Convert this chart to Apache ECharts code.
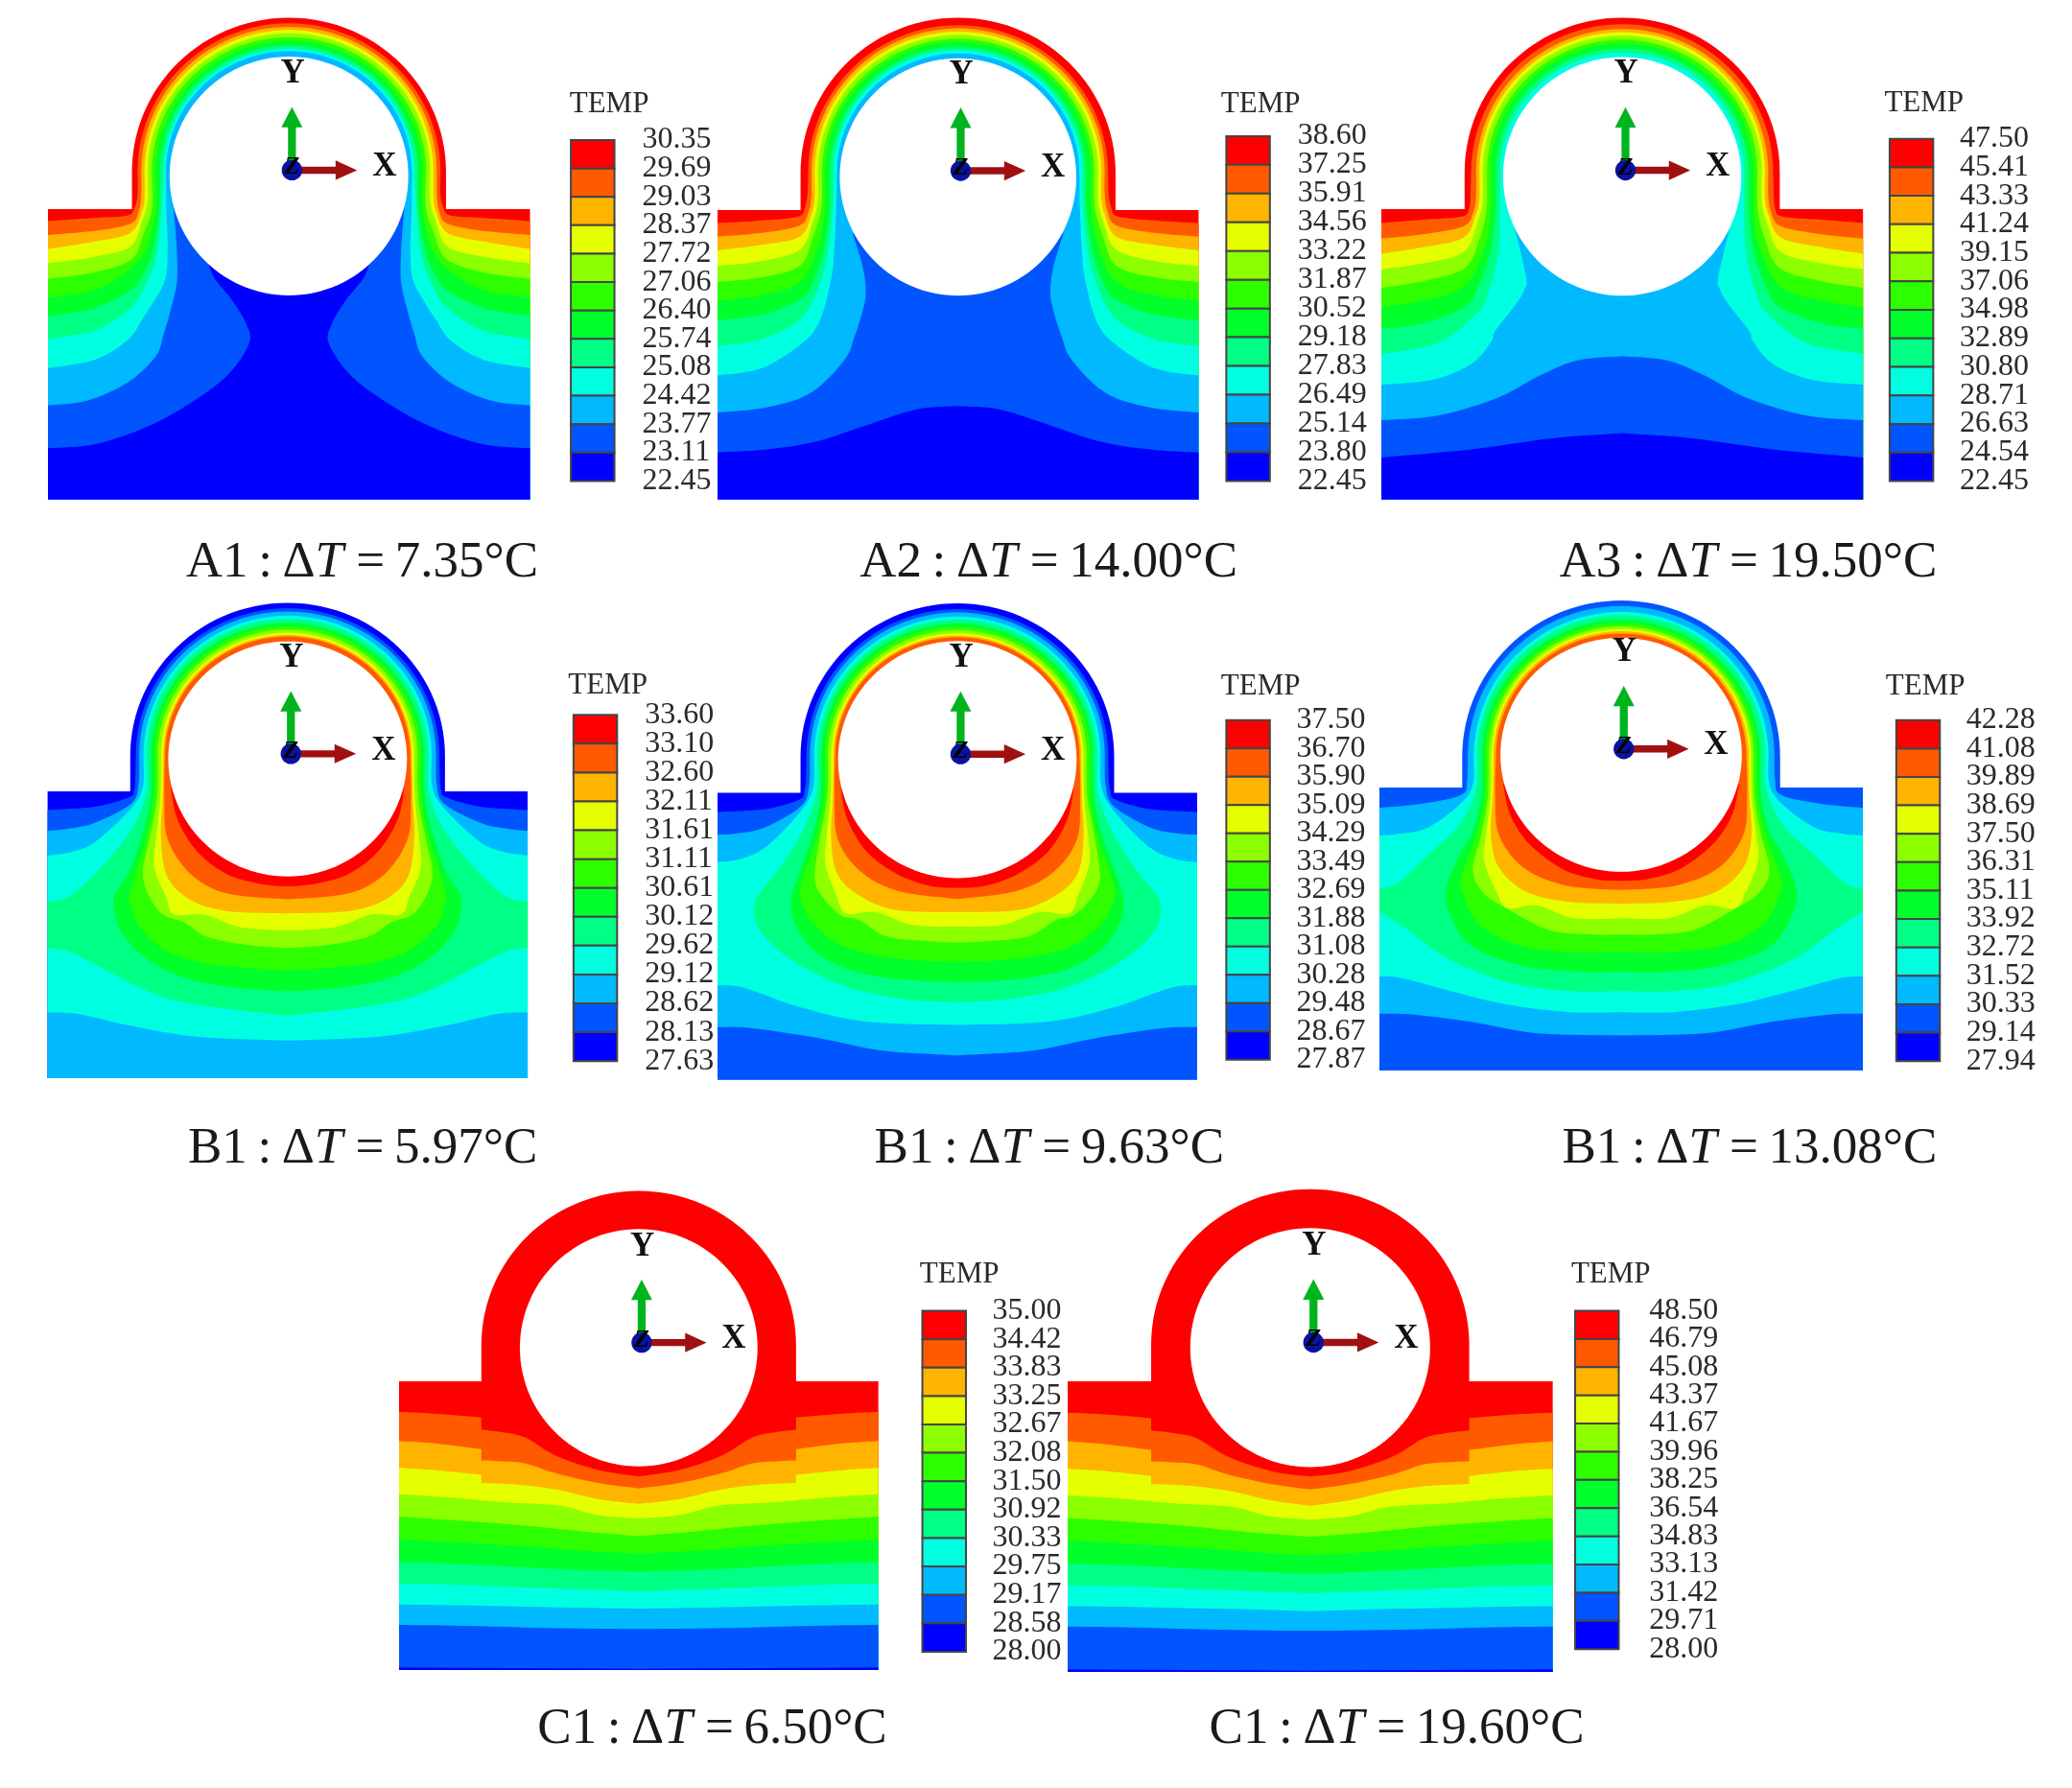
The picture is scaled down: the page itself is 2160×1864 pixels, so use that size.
<!DOCTYPE html>
<html><head><meta charset="utf-8">
<script src="https://cdn.jsdelivr.net/npm/echarts@6/dist/echarts.min.js"></script>
<style>html,body{margin:0;background:#fff}#c{width:2160px;height:1864px;filter:blur(0.6px)}</style>
</head><body><div id="c"></div><script>
const ramp=['#ff0000','#ff5a00','#ffb400','#e6ff00','#8cff00','#2dff00','#00ff2b','#00ff85','#00ffe0','#00b9ff','#0055ff','#0000ff'];

const A1_ticks=['30.35','29.69','29.03','28.37','27.72','27.06','26.40','25.74','25.08','24.42','23.77','23.11','22.45'];
const A2_ticks=['38.60','37.25','35.91','34.56','33.22','31.87','30.52','29.18','27.83','26.49','25.14','23.80','22.45'];
const A3_ticks=['47.50','45.41','43.33','41.24','39.15','37.06','34.98','32.89','30.80','28.71','26.63','24.54','22.45'];
const B1_ticks=['33.60','33.10','32.60','32.11','31.61','31.11','30.61','30.12','29.62','29.12','28.62','28.13','27.63'];
const B2_ticks=['37.50','36.70','35.90','35.09','34.29','33.49','32.69','31.88','31.08','30.28','29.48','28.67','27.87'];
const B3_ticks=['42.28','41.08','39.89','38.69','37.50','36.31','35.11','33.92','32.72','31.52','30.33','29.14','27.94'];
const C1_ticks=['35.00','34.42','33.83','33.25','32.67','32.08','31.50','30.92','30.33','29.75','29.17','28.58','28.00'];
const C2_ticks=['48.50','46.79','45.08','43.37','41.67','39.96','38.25','36.54','34.83','33.13','31.42','29.71','28.00'];

const captions=[['A1','7.35'],['A2','14.00'],['A3','19.50'],['B1','5.97'],['B1','9.63'],['B1','13.08'],['C1','6.50'],['C1','19.60']];

// contour lines, left half, in model units; third element marks a corner
const A1_rings=[458,447,437,427,415,403,390,380,372];
const A1_curves=[
[[331,600],[322,640],[300,665],[200,672],[60,682]],
[[342,600],[335,650],[310,690],[200,712],[60,725]],
[[352,610],[345,650],[310,718],[200,745],[60,768]],
[[362,620],[345,680],[310,760],[200,792],[60,812]],
[[375,640],[350,720],[312,800],[200,840],[60,860]],
[[385,650],[360,760],[310,830],[200,895],[60,918]],
[[397,650],[375,780],[345,850],[310,895],[200,950],[60,975]],
[[405,620],[390,780],[355,880],[310,950],[200,1020],[60,1045]],
[[418,640],[422,760],[415,860],[380,930],[345,985],[300,1050],[200,1110],[60,1135]],
[[789,620,1],[438,620,1],[445,700],[450,780],[450,870],[430,960],[410,1030],[385,1100],[300,1180],[180,1235],[60,1250]],
[[789,815,1],[546,815,1],[565,860],[620,930],[660,1000],[668,1060],[600,1160],[480,1250],[350,1320],[200,1370],[60,1382]]
];
const A2_rings=[455,445,435,425,413,403,388,378,368];
const A2_curves=[
[[818,600],[810,640],[790,668],[680,680],[545,688]],
[[830,600],[822,650],[795,695],[680,718],[545,730]],
[[840,610],[830,660],[795,730],[680,755],[545,772]],
[[850,620],[832,690],[795,770],[680,805],[545,820]],
[[860,640],[835,730],[795,820],[680,855],[545,870]],
[[870,650],[850,760],[795,870],[680,910],[545,928]],
[[885,650],[865,780],[830,880],[795,925],[680,970],[545,988]],
[[895,640],[880,780],[850,890],[795,985],[680,1045],[545,1068]],
[[905,640],[900,760],[890,860],[855,990],[800,1060],[680,1135],[545,1158]],
[[1275,720,1],[955,720,1],[985,820],[995,900],[985,960],[960,1040],[930,1110],[830,1210],[700,1255],[545,1272]],
[[1275,1252],[1150,1262],[1000,1310],[850,1360],[700,1385],[545,1395]]
];
const A3_rings=[459,444,434,424,411,399,384,371];
const A3_curves=[
[[296,600],[292,640],[270,665],[150,675],[25,685]],
[[313,600],[305,650],[275,695],[150,720],[25,733]],
[[323,610],[312,660],[275,730],[150,760],[25,780]],
[[333,620],[315,690],[275,775],[150,810],[25,828]],
[[345,640],[325,730],[278,825],[150,865],[25,885]],
[[357,650],[340,760],[278,880],[150,925],[25,945]],
[[372,650],[355,780],[320,880],[278,945],[150,995],[25,1012]],
[[386,650],[380,780],[350,900],[320,960],[200,1055],[25,1090]],
[[757,700,1],[430,700,1],[465,850],[460,890],[435,935],[370,1020],[360,1050],[300,1120],[180,1170],[25,1185]],
[[757,1097],[620,1110],[500,1160],[380,1225],[200,1280],[25,1295]],
[[757,1335],[550,1350],[300,1385],[25,1410]]
];
const B1_rings=[459,449,436,426,413,403,393,383,376,371];
const B1_curves=[
[[322,600],[318,630],[305,650],[200,680],[57,690]],
[[332,610],[310,670],[200,730],[120,748],[57,755]],
[[345,620],[305,690],[200,790],[130,820],[57,832,1],[57,1320,1],[150,1325],[300,1360],[500,1395],[783,1408]],
[[355,640],[305,760],[200,890],[120,960],[57,975,1],[57,1120,1],[120,1130],[200,1170],[350,1250],[500,1295],[783,1330]],
[[368,650],[345,760],[305,880],[262,950],[258,990],[275,1060],[340,1140],[450,1205],[600,1240],[783,1255]],
[[378,650],[355,780],[308,940],[312,1000],[340,1060],[420,1130],[550,1170],[783,1190]],
[[388,650],[365,780],[345,880],[360,950],[405,1015],[470,1040],[540,1085],[660,1110],[783,1120]],
[[398,650],[385,780],[380,870],[415,960],[440,1015],[530,1015],[640,1055],[783,1065]],
[[405,650],[400,780],[420,900],[490,970],[600,1005],[783,1012]],
[[410,650],[420,780],[490,890],[600,950],[783,968]],
[[783,620,1],[430,620,1],[450,720],[510,820],[600,890],[700,920],[783,928]]
];
const B2_rings=[458,448,435,425,413,403,393,383,376,371];
const B2_curves=[
[[318,600],[313,630],[300,655],[200,685],[50,695]],
[[328,610],[305,675],[200,740],[120,760],[50,765,1],[50,1362,1],[150,1365],[350,1395],[550,1435],[778,1450]],
[[340,620],[300,695],[200,800],[120,840],[50,850,1],[50,1232,1],[130,1240],[300,1300],[500,1345],[778,1355]],
[[350,640],[300,770],[230,880],[170,960],[162,1020],[200,1090],[300,1170],[450,1240],[620,1275],[778,1285]],
[[363,650],[340,760],[300,880],[275,960],[285,1040],[350,1130],[470,1190],[620,1215],[778,1222]],
[[373,650],[350,780],[302,925],[310,990],[350,1050],[440,1115],[600,1150],[778,1160]],
[[383,650],[360,780],[345,900],[370,960],[425,1015],[480,1030],[560,1080],[680,1095],[778,1100]],
[[393,650],[380,780],[378,860],[410,950],[440,1010],[530,1005],[640,1045],[778,1050]],
[[400,650],[395,780],[415,890],[490,960],[600,1000],[778,1005]],
[[405,650],[415,780],[485,880],[600,940],[778,965]],
[[778,620,1],[424,620,1],[445,720],[505,820],[600,890],[700,925],[778,930]]
];
const B3_rings=[465,447,437,422,412,402,394,387,380];
const B3_curves=[
[[288,600],[270,645],[150,672],[22,685,1],[22,1320,1],[120,1322],[300,1345],[500,1380],[755,1387]],
[[306,610],[270,670],[170,745],[80,765],[22,770,1],[22,1205,1],[90,1210],[220,1245],[400,1290],[600,1315],[755,1315]],
[[316,620],[270,730],[170,830],[80,915],[22,935,1],[22,1005,1],[100,1055],[230,1150],[420,1225],[600,1250],[755,1250]],
[[331,650],[305,760],[270,820],[225,930],[235,1010],[300,1110],[450,1170],[620,1190],[755,1190]],
[[341,650],[315,770],[270,900],[275,950],[320,1040],[430,1105],[600,1130],[755,1130]],
[[351,650],[330,770],[305,880],[340,950],[400,990],[530,1060],[650,1075],[755,1075]],
[[359,650],[345,770],[340,850],[380,950],[410,995],[500,985],[610,1025],[755,1025]],
[[366,650],[360,770],[385,870],[470,945],[600,975],[755,980]],
[[373,650],[385,770],[460,870],[590,925],[755,938]],
[[755,610,1],[397,610,1],[420,710],[480,800],[580,875],[680,905],[755,910]]
];
const C1_rings=[];
const C1_curves=[
[[773,945],[650,925],[520,880],[430,825],[360,808],[295,800,1],[295,762,1],[150,750],[45,745]],
[[773,982],[650,965],[520,935],[430,905],[360,898],[295,895,1],[295,860,1],[150,842],[45,835]],
[[773,1030],[650,1015],[520,985],[400,970],[295,965,1],[295,940,1],[150,925],[45,918]],
[[773,1075],[650,1065],[530,1035],[360,1025],[200,1010],[45,1000]],
[[773,1130],[600,1115],[400,1095],[200,1080],[45,1070]],
[[773,1185],[600,1175],[400,1160],[200,1148],[45,1140]],
[[773,1240],[600,1235],[400,1225],[200,1215],[45,1210]],
[[773,1300],[600,1295],[400,1288],[200,1280],[45,1278]],
[[773,1355],[600,1352],[400,1348],[200,1344],[45,1342]],
[[773,1418],[500,1415],[250,1408],[45,1405]],
[[773,1541],[45,1537]]
];
const C2_rings=[];
const C2_curves=[
[[770,942],[650,925],[520,880],[430,825],[360,808],[290,800,1],[290,762,1],[150,750],[38,745]],
[[770,982],[650,965],[520,935],[430,905],[360,898],[290,895,1],[290,860,1],[150,842],[38,833]],
[[770,1032],[650,1015],[520,985],[400,970],[290,965,1],[290,940,1],[150,925],[38,918]],
[[770,1075],[650,1065],[530,1035],[360,1025],[200,1010],[38,1000]],
[[770,1128],[600,1115],[400,1095],[200,1080],[38,1070]],
[[770,1185],[600,1175],[400,1160],[200,1148],[38,1138]],
[[770,1242],[600,1235],[400,1225],[200,1215],[38,1210]],
[[770,1302],[600,1295],[400,1288],[200,1280],[38,1278]],
[[770,1358],[600,1352],[400,1348],[200,1344],[38,1342]],
[[770,1418],[500,1415],[250,1408],[38,1405]],
[[770,1541],[38,1537]]
];

// K = px scale of shrunk layout readings
const K=2160/1568;
const panels=[
{ticks:A1_ticks,rings:A1_rings,curves:A1_curves,start:0,step:1,rect:[50,552.5,218,520.7],box:[60,1518,645,1540,55],xc:789,R:475,yc:530,hole:[361,368,543],tri:[798,525],
 lg:[432,465,106,364,486,431,79],cap:[274,426]},
{ticks:A2_ticks,rings:A2_rings,curves:A2_curves,start:0,step:1,rect:[748,1249.5,219,520.7],box:[545,2005,648,1540,60],xc:1275,R:478,yc:533,hole:[359,366,546],tri:[1283,527],
 lg:[928,961,103,364,982,924,79],cap:[793.5,426]},
{ticks:A3_ticks,rings:A3_rings,curves:A3_curves,start:0,step:1,rect:[1440,1942.5,218,520.7],box:[25,1490,642,1540,50],xc:757,R:479,yc:529,hole:[362,369,541],tri:[767,522],
 lg:[1430,1463,105,364,1483,1426,78],cap:[1323,426]},
{ticks:B1_ticks,rings:B1_rings,curves:B1_curves,start:11,step:-1,rect:[49.6,549.7,825,1124],box:[57,1508,632,1525,45],xc:783,R:476,yc:521,hole:[361,366,531],tri:[793,515],
 lg:[434,467,541,803,488,430,519],cap:[274.5,870]},
{ticks:B2_ticks,rings:B2_rings,curves:B2_curves,start:11,step:-1,rect:[748,1248,826.5,1125.5],box:[50,1506,635,1525,47],xc:778,R:476,yc:523,hole:[362,368,532],tri:[788,515],
 lg:[928,961,545,802,981,924,520],cap:[794,870]},
{ticks:B3_ticks,rings:B3_rings,curves:B3_curves,start:10,step:-1,rect:[1438,1942,821,1116],box:[22,1488,622,1495,45],xc:755,R:482,yc:527,hole:[366,361,521],tri:[763,503],
 lg:[1435,1468,545,803,1488,1427,520],cap:[1324,870]},
{ticks:C1_ticks,rings:C1_rings,curves:C1_curves,start:0,step:1,rect:[416,916,1440,1741],box:[45,1502,650,1545,60],xc:773,R:478,yc:538,hole:[361,368,546],tri:[782,530],
 lg:[698,731,992,1250,751,696,965],cap:[539,1309]},
{ticks:C2_ticks,rings:C2_rings,curves:C2_curves,start:0,step:1,rect:[1113,1619,1440,1743],box:[38,1503,648,1545,55],xc:770,R:480,yc:535,hole:[362,369,544],tri:[780,528],
 lg:[1192,1225,992,1248,1248,1189,965],cap:[1057,1309]}
];

const SERIF='"Liberation Serif"';
function smooth(pts){
  const out=[];
  for(let i=0;i<pts.length-1;i++){
    const p1=pts[i],p2=pts[i+1];
    const p0=(p1[2]||!pts[i-1])?p1:pts[i-1];
    const p3=(p2[2]||!pts[i+2])?p2:pts[i+2];
    for(let s=0;s<6;s++){
      const t=s/6,t2=t*t,t3=t2*t;
      const f=k=>0.5*(2*p1[k]+(p2[k]-p0[k])*t+(2*p0[k]-5*p1[k]+4*p2[k]-p3[k])*t2+(3*p1[k]-p0[k]-3*p2[k]+p3[k])*t3);
      out.push([f(0),f(1)]);
    }
  }
  const l=pts[pts.length-1];out.push([l[0],l[1]]);
  return out;
}
function arc(xc,cy,r){
  const out=[];
  for(let d=0;d<=90;d+=3){const a=d*Math.PI/180;out.push([xc-r*Math.sin(a),cy-r*Math.cos(a)]);}
  return out;
}
function mirror(half,xc){return half.concat(half.slice().reverse().map(p=>[2*xc-p[0],p[1]]));}
function levelPolygon(P,i){
  const left=P.box[0],bottom=P.box[3],xc=P.xc;
  let half=[];
  const r=P.rings[i];
  let c=P.curves[i];
  if(r!==undefined){
    const a=arc(xc,P.yc,r);
    half=a.slice(0,-1);
    c=[a[a.length-1]].concat(c);
  }
  half=half.concat(smooth(c));
  const last=c[c.length-1];
  if(last[0]!==xc){half.push([left,bottom],[xc,bottom]);}
  return mirror(half,xc);
}
function basePolygon(P){
  const [left,,top,bottom]=P.box,xc=P.xc;
  const half=arc(xc,P.yc,P.R).concat([[xc-P.R,top],[left,top],[left,bottom],[xc,bottom]]);
  return mirror(half,xc);
}
function holePolygon(P){
  const out=[];const [rx,ry,cy]=P.hole;
  for(let d=0;d<360;d+=3){const a=d*Math.PI/180;out.push([P.xc+rx*Math.cos(a),cy+ry*Math.sin(a)]);}
  return out;
}

const grid=[],xAxis=[],yAxis=[],series=[],title=[];
panels.forEach((P,n)=>{
  const [xl,xr,pt,pb]=P.rect,[bl,br,bt,bb,bd]=P.box;
  const top=pt-(bt-bd)*(pb-pt)/(bb-bt);
  const g=grid.length;
  grid.push({left:xl,width:xr-xl,top:top,height:pb-top,containLabel:false});
  xAxis.push({gridIndex:g,type:'value',min:bl,max:br,show:false});
  yAxis.push({gridIndex:g,type:'value',min:bd,max:bb,inverse:true,show:false});
  // body and contour bands
  const polys=[{poly:basePolygon(P),color:ramp[P.start]}];
  P.curves.forEach((c,i)=>polys.push({poly:levelPolygon(P,i),color:ramp[P.start+P.step*(i+1)]}));
  polys.push({poly:holePolygon(P),color:'#ffffff'});
  series.push({type:'custom',xAxisIndex:g,yAxisIndex:g,silent:true,clip:false,animation:false,
    data:polys.map((_,i)=>[i]),
    renderItem:(params,api)=>{
      const o=polys[params.dataIndex];
      return {type:'polygon',shape:{points:o.poly.map(p=>api.coord(p))},style:{fill:o.color,stroke:null}};
    }});
  // coordinate triad
  series.push({type:'custom',xAxisIndex:g,yAxisIndex:g,silent:true,clip:false,animation:false,z:5,
    data:[P.tri],
    renderItem:(params,api)=>{
      const [ox,oy]=P.tri;
      const c=(x,y)=>api.coord([ox+x,oy+y]);
      const poly=(pts,fill)=>({type:'polygon',shape:{points:pts.map(p=>c(p[0],p[1]))},style:{fill}});
      const txt=(s,x,y,font,fill)=>{const q=c(x,y);return {type:'text',style:{text:s,x:q[0],y:q[1],font,fill:fill||'#111',align:'center',verticalAlign:'middle',textAlign:'center',textVerticalAlign:'middle'}};};
      return {type:'group',children:[
        poly([[-12,0],[-12,-132],[-32,-132],[0,-195],[32,-132],[12,-132],[12,0]],'#00b41e'),
        poly([[0,-11],[132,-11],[132,-30],[197,0],[132,30],[132,11],[0,11]],'#a01010'),
        {type:'circle',shape:{cx:c(0,0)[0],cy:c(0,0)[1],r:api.size([31,0])[0]},style:{fill:'#0a12a0'}},
        txt('Z',0,-8,'italic bold 26px '+SERIF,'#000'),
        txt('Y',2,-297,'bold 35px '+SERIF),
        txt('X',280,-10,'bold 35px '+SERIF)
      ]};
    }});
  // colour legend: one category tick per scale value, one swatch between neighbours
  const [l0,l1,l2,l3,l4,tx,ty]=P.lg;
  const lg=grid.length;
  const T=P.ticks;
  grid.push({left:l0*K,width:(l1-l0)*K,top:l2*K,height:(l3-l2)*K});
  xAxis.push({gridIndex:lg,type:'value',min:0,max:1,show:false});
  yAxis.push({gridIndex:lg,type:'category',data:T,inverse:true,boundaryGap:false,position:'right',
    axisLine:{show:false},axisTick:{show:false},splitLine:{show:false},
    axisLabel:{interval:0,fontFamily:SERIF,fontSize:32,color:'#2a2a2a',margin:(l4-l1)*K,padding:[0,0,5,0]}});
  series.push({type:'custom',xAxisIndex:lg,yAxisIndex:lg,silent:true,clip:false,animation:false,
    data:T.slice(0,-1).map((t,i)=>[0,i]),
    renderItem:(params,api)=>{
      const i=params.dataIndex;
      const a=api.coord([0,i]),b=api.coord([1,i+1]);
      return {type:'rect',shape:{x:a[0],y:a[1],width:b[0]-a[0],height:b[1]-a[1]},style:{fill:ramp[i],stroke:'#454545',lineWidth:2}};
    }});
  title.push({text:'TEMP',left:tx*K,top:ty*K,textVerticalAlign:'middle',textStyle:{fontFamily:SERIF,fontSize:31,fontWeight:'normal',color:'#2a2a2a'},padding:0});
  const cp=captions[n];
  title.push({text:cp[0]+'\u2009:\u2009\u0394{i|T} ='+'\u2009'+cp[1]+'\u00b0C',left:P.cap[0]*K,top:P.cap[1]*K,textAlign:'center',textVerticalAlign:'middle',padding:0,
    textStyle:{fontFamily:SERIF,fontSize:53,fontWeight:'normal',color:'#1a1a1a',rich:{i:{fontFamily:SERIF,fontStyle:'italic',fontSize:53,color:'#1a1a1a'}}}});
});

const chart=echarts.init(document.getElementById('c'),null,{renderer:'canvas',width:2160,height:1864});
chart.setOption({backgroundColor:'#fff',animation:false,title,grid,xAxis,yAxis,series});
</script></body></html>
